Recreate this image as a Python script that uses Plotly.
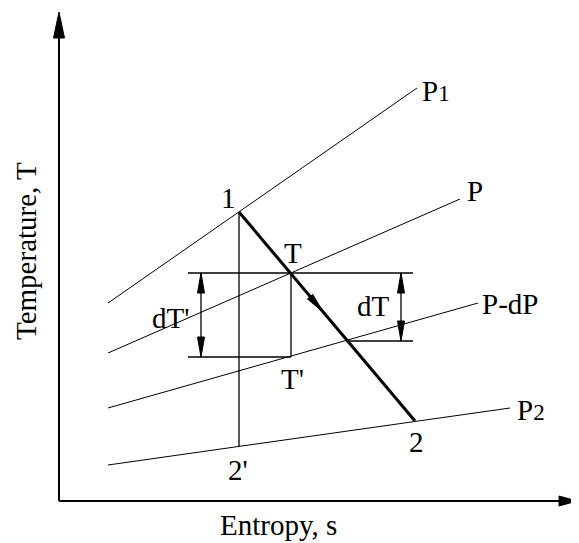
import math
import plotly.graph_objects as go

# ---------------- data (entropy s, temperature T in arbitrary units) ----------------
isobar_labels = ["P<span style='font-size:23px'>1</span>", "P", "P-dP", "P<span style='font-size:23px'>2</span>"]
isobar_s_start = [4.9, 4.9, 4.9, 4.9]
isobar_T_start = [19.8, 14.8, 9.3, 3.6]
isobar_s_end = [35.8, 40.1, 41.9, 45.1]
isobar_T_end = [41.3, 30.2, 19.8, 9.3]
isobar_label_s = [37.7, 41.6, 45.1, 47.2]
isobar_label_T = [41.0, 31.0, 19.7, 9.1]

# state points
point_names = ["1", "2", "T", "T'", "2'"]
point_s = [18.0, 35.6, 23.2, 23.2, 18.0]
point_T = [28.9, 8.0, 22.8, 14.4, 5.4]
point_label_s = [16.9, 35.7, 23.4, 23.3, 17.9]
point_label_T = [30.3, 5.9, 24.8, 12.2, 3.1]

# construction lines
top_line_s = [12.9, 35.4]
top_line_T = 22.8
dTp_line_s = [12.9, 23.2]
dTp_line_T = 14.4
dT_line_s = [28.7, 35.4]
dT_line_T = 16.0

# dimension arrows
dim_labels = ["dT'", "dT"]
dim_s = [14.2, 34.2]
dim_T_top = [22.8, 22.8]
dim_T_bot = [14.4, 16.0]
dim_label_s = [11.1, 31.4]
dim_label_T = [18.3, 19.5]

# process direction arrow tip
proc_arrow_s = 26.4
proc_arrow_T = 18.9

# axes extents
axis_s_max = 51.8
axis_T_max = 48.9

FONT = "Liberation Serif"
FS = 29
PX = 10.0  # pixels per data unit (both axes)

fig = go.Figure()


def line(xs, ys, w, color="black"):
    fig.add_trace(go.Scatter(x=xs, y=ys, mode="lines",
                             line=dict(color=color, width=w),
                             hoverinfo="skip", showlegend=False))


def head(tip_s, tip_T, ds, dT, length_px, width_px):
    n = math.hypot(ds, dT)
    ux, uy = ds / n, dT / n
    L = length_px / PX
    W = width_px / PX / 2
    bs, bT = tip_s - ux * L, tip_T - uy * L
    px, py = -uy, ux
    xs = [tip_s, bs + px * W, bs - px * W, tip_s]
    ys = [tip_T, bT + py * W, bT - py * W, tip_T]
    fig.add_trace(go.Scatter(x=xs, y=ys, mode="lines", fill="toself",
                             fillcolor="black", line=dict(color="black", width=1),
                             hoverinfo="skip", showlegend=False))


# axes
line([0, 0], [0, axis_T_max - 1.5], 2)
head(0, axis_T_max, 0, 1, 26, 11)
line([0, axis_s_max - 1.2], [0, 0], 2)
head(axis_s_max, 0, 1, 0, 18, 10)

# isobars
for i in range(len(isobar_labels)):
    line([isobar_s_start[i], isobar_s_end[i]], [isobar_T_start[i], isobar_T_end[i]], 1)

# construction lines
line(top_line_s, [top_line_T, top_line_T], 1.3)
line(dTp_line_s, [dTp_line_T, dTp_line_T], 1.3)
line(dT_line_s, [dT_line_T, dT_line_T], 1.3)
line([point_s[0], point_s[4]], [point_T[0], point_T[4]], 1.3)
line([point_s[2], point_s[3]], [point_T[2], point_T[3]], 1.3)

# dimension arrows
for i in range(len(dim_labels)):
    line([dim_s[i], dim_s[i]], [dim_T_top[i], dim_T_bot[i]], 1.3)
    head(dim_s[i], dim_T_top[i], 0, 1, 20, 7)
    head(dim_s[i], dim_T_bot[i], 0, -1, 20, 7)

# process line 1 -> 2
line([point_s[0], point_s[1]], [point_T[0], point_T[1]], 3)
head(proc_arrow_s, proc_arrow_T, point_s[1] - point_s[0], point_T[1] - point_T[0], 20, 7)

annotations = []
for i, t in enumerate(isobar_labels):
    annotations.append(dict(x=isobar_label_s[i], y=isobar_label_T[i], text=t))
for i, t in enumerate(point_names):
    annotations.append(dict(x=point_label_s[i], y=point_label_T[i], text=t))
for i, t in enumerate(dim_labels):
    annotations.append(dict(x=dim_label_s[i], y=dim_label_T[i], text=t))
for a in annotations:
    a.update(showarrow=False, xref="x", yref="y", xanchor="center", yanchor="middle",
             font=dict(family=FONT, size=FS, color="black"))

annotations.append(dict(x=21.9, y=-2.4, xref="x", yref="y", text="Entropy, s", showarrow=False,
                        xanchor="center", yanchor="middle",
                        font=dict(family=FONT, size=FS, color="black")))
annotations.append(dict(x=-3.3, y=25.0, xref="x", yref="y", text="Temperature, T", showarrow=False,
                        textangle=-90, xanchor="center", yanchor="middle",
                        font=dict(family=FONT, size=FS, color="black")))

# page body has an 8px margin: the figure is sized to fit the 579x543 window
fig.update_layout(
    width=571, height=535,
    margin=dict(l=0, r=0, t=0, b=0),
    paper_bgcolor="white", plot_bgcolor="white",
    xaxis=dict(range=[-5.1, 52.0], visible=False, fixedrange=True),
    yaxis=dict(range=[-4.2, 49.3], visible=False, fixedrange=True),
    annotations=annotations,
    showlegend=False,
)

fig.write_html("out.html", config={"displayModeBar": False})
